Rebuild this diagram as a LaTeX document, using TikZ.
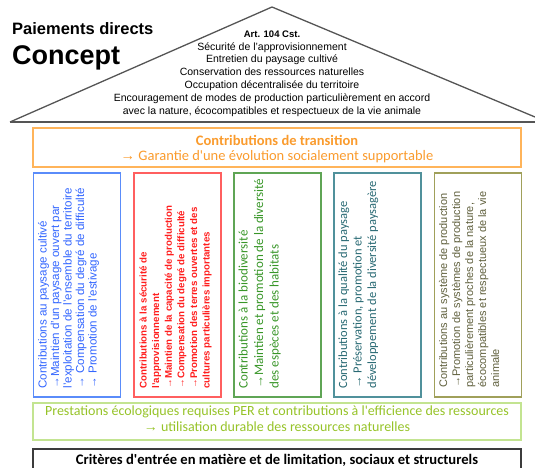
\documentclass[tikz,border=0pt]{standalone}
\usepackage{fontspec}
\setmainfont{Liberation Sans}
\newfontfamily\carl{Carlito}
\newfontfamily\arrowfont{Liberation Sans}
\newcommand\myarr{{\arrowfont →}}
\definecolor{cblue}{RGB}{51,102,255}
\definecolor{cbluel}{RGB}{90,140,250}
\definecolor{cred}{RGB}{255,30,30}
\definecolor{credl}{RGB}{255,95,95}
\definecolor{cgreen}{RGB}{56,150,40}
\definecolor{cgreenl}{RGB}{95,165,85}
\definecolor{cteal}{RGB}{40,105,115}
\definecolor{cteall}{RGB}{80,145,155}
\definecolor{colive}{RGB}{95,95,60}
\definecolor{colivel}{RGB}{160,160,90}
\definecolor{corange}{RGB}{250,155,45}
\definecolor{corangel}{RGB}{255,180,90}
\definecolor{clgreen}{RGB}{150,195,40}
\definecolor{clgreenl}{RGB}{195,228,145}
\definecolor{cdark}{RGB}{60,60,60}
\definecolor{croof}{RGB}{85,85,85}
\begin{document}
\begin{tikzpicture}[x=1pt,y=-1pt,
  colbox/.style={draw, line width=1.4pt, minimum width=87pt, minimum height=224pt, inner sep=0pt},
  wide/.style={draw, line width=1.4pt, minimum width=488pt, inner sep=0pt},
  coltext/.style={rotate=90, anchor=north west, inner sep=0pt, align=left},
  roofline/.style={draw=croof, line width=1.3pt},
  roofbase/.style={draw=croof, line width=2.3pt}]
\useasboundingbox (0,0) rectangle (535,468);
% roof
\coordinate (apex) at (272,7);
\coordinate (rl) at (10,122);
\coordinate (rr) at (535,122);
\coordinate (re) at (535,117);
\draw[roofline] (rl) -- (apex) -- (re);
\draw[roofbase] (rl) -- (rr);
\node[anchor=base west, inner sep=0pt, font=\bfseries\fontsize{16.5}{16}\selectfont] (t1) at (12,35) {Paiements directs};
\node[anchor=base west, inner sep=0pt, font=\bfseries\fontsize{27}{27}\selectfont] (t2) at (12,65) {Concept};
\node[anchor=north, inner sep=0pt, align=center, font=\fontsize{10.5}{12.8}\selectfont] (rooftext) at (272,30.5)
 {{\bfseries\fontsize{9.5}{12.8}\selectfont Art. 104 Cst.}\\
  Sécurité de l'approvisionnement\\
  Entretien du paysage cultivé\\
  Conservation des ressources naturelles\\
  Occupation décentralisée du territoire\\
  Encouragement de modes de production particulièrement en accord\\
  avec la nature, écocompatibles et respectueux de la vie animale};
% transition box
\node[wide, draw=corangel, minimum height=39pt] (trans) at (277,147.5) {};
\node[anchor=north, inner sep=0pt, align=center, text=corange, font=\carl\fontsize{14.5}{14.5}\selectfont] (transtext) at (277,135.5)
 {{\bfseries Contributions de transition}\\ \myarr{} Garantie d'une évolution socialement supportable};
% columns
\node[colbox, draw=cbluel] (c1) at (77,285) {};
\node[colbox, draw=credl] (c2) at (177.5,285) {};
\node[colbox, draw=cgreenl] (c3) at (277.5,285) {};
\node[colbox, draw=cteall] (c4) at (377.5,285) {};
\node[colbox, draw=colivel] (c5) at (478,285) {};
\node[coltext, text=cblue, font=\fontsize{11.6}{12.5}\selectfont] (tx1) at ([xshift=5pt,yshift=9pt]c1.south west)
 {Contributions au paysage cultivé\\
  →Maintien d'un paysage ouvert par\\
  l'exploitation de l'ensemble du territoire\\
  → Compensation du degré de difficulté\\
  → Promotion de l'estivage};
\node[coltext, text=cred, font=\bfseries\fontsize{9.7}{12.6}\selectfont] (tx2) at ([xshift=6pt,yshift=9pt]c2.south west)
 {Contributions à la sécurité de\\
  l'approvisionnement\\
  →Maintien de la capacité de production\\
  →Compensation du degré de difficulté\\
  →Promotion des terres ouvertes et des\\
  cultures particulières importantes};
\node[coltext, text=cgreen, font=\carl\fontsize{13}{15.5}\selectfont] (tx3) at ([xshift=5pt,yshift=9pt]c3.south west)
 {Contributions à la biodiversité\\
  \myarr Maintien et promotion de la diversité\\
  des espèces et des habitats};
\node[coltext, text=cteal, font=\carl\fontsize{12.5}{14.5}\selectfont] (tx4) at ([xshift=5pt,yshift=9pt]c4.south west)
 {Contributions à la qualité du paysage\\
  \myarr{} Préservation, promotion et\\
  développement de la diversité paysagère};
\node[coltext, text=colive, font=\fontsize{11}{13}\selectfont] (tx5) at ([xshift=5pt,yshift=10pt]c5.south west)
 {Contributions au système de production\\
  →Promotion de systèmes de production\\
  particulièrement proches de la nature,\\
  écocompatibles et respectueux de la vie\\
  animale};
% PER box
\node[wide, draw=clgreenl, minimum height=37pt] (per) at (277,421.5) {};
\node[anchor=north, inner sep=0pt, align=center, text=clgreen, font=\carl\fontsize{14}{15.5}\selectfont] (pertext) at (277,406)
 {Prestations écologiques requises PER et contributions à l'efficience des ressources\\
  \myarr{} utilisation durable des ressources naturelles};
% entry criteria box
\node[wide, draw=cdark, minimum height=32pt] (crit) at (277,465) {};
\node[anchor=base, inner sep=0pt, font=\carl\bfseries\fontsize{14.6}{15}\selectfont] (crittext) at (277,464.5)
 {Critères d'entrée en matière et de limitation, sociaux et structurels};
\end{tikzpicture}
\end{document}
